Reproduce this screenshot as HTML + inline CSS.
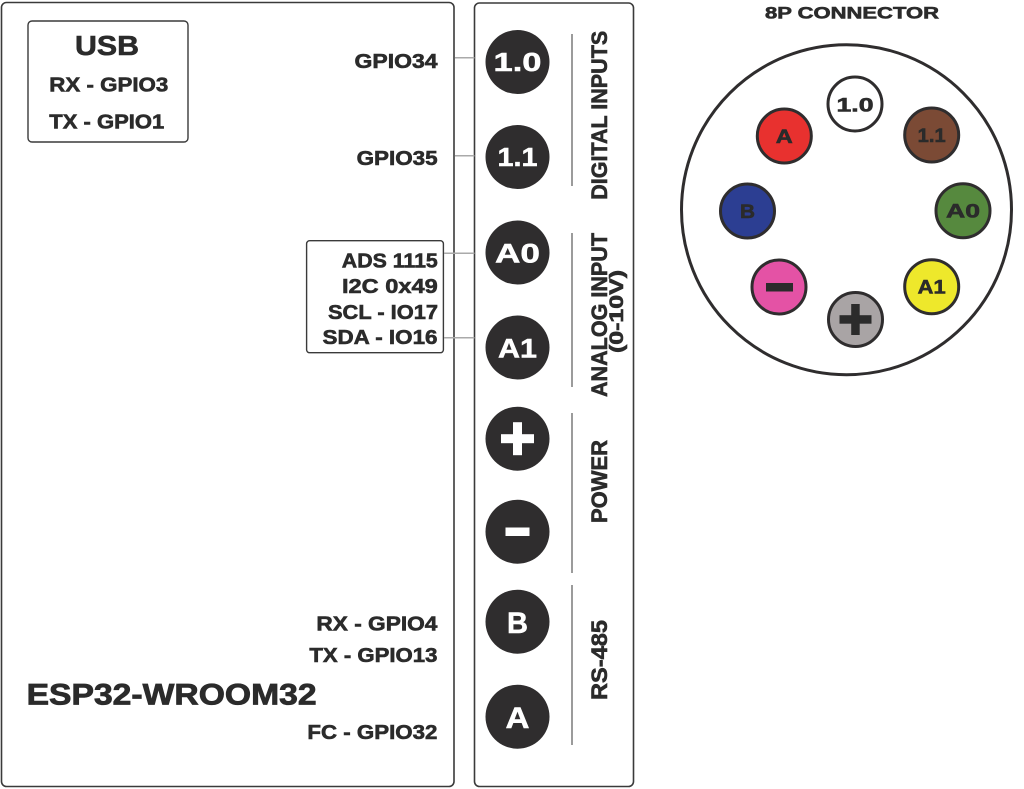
<!DOCTYPE html>
<html>
<head>
<meta charset="utf-8">
<style>
html,body{margin:0;padding:0;background:#fff;width:1024px;height:789px;overflow:hidden;}
svg{display:block;}
text{font-family:"Liberation Sans",Arial,sans-serif;font-weight:bold;fill:#2b2b2b;stroke:#2b2b2b;stroke-width:0.6;}
text.w{fill:#fff;stroke:#fff;stroke-width:0.5;}
</style>
</head>
<body>
<svg width="1024" height="789" viewBox="0 0 1024 789" xmlns="http://www.w3.org/2000/svg">
  <!-- Main ESP32 box -->
  <rect x="1.5" y="2.5" width="452.5" height="784" rx="5" fill="#fff" stroke="#3a3a3a" stroke-width="1.6"/>
  <!-- Right terminal panel -->
  <rect x="474.5" y="3" width="159" height="783.5" rx="5" fill="#fff" stroke="#3a3a3a" stroke-width="1.6"/>

  <!-- USB box -->
  <rect x="28" y="21" width="160" height="121" rx="4" fill="#fff" stroke="#3a3a3a" stroke-width="1.4"/>
  <text x="75" y="55" font-size="28" textLength="64" lengthAdjust="spacingAndGlyphs">USB</text>
  <text x="49.3" y="91.7" font-size="20" textLength="119" lengthAdjust="spacingAndGlyphs">RX - GPIO3</text>
  <text x="49.3" y="128.3" font-size="20" textLength="115" lengthAdjust="spacingAndGlyphs">TX - GPIO1</text>

  <!-- GPIO labels -->
  <text x="354.5" y="68" font-size="20" textLength="83" lengthAdjust="spacingAndGlyphs">GPIO34</text>
  <text x="356.6" y="165" font-size="20" textLength="81" lengthAdjust="spacingAndGlyphs">GPIO35</text>

  <!-- ADS box -->
  <rect x="306.6" y="240.7" width="136.8" height="112" rx="3" fill="#fff" stroke="#3a3a3a" stroke-width="1.4"/>
  <text x="341.8" y="267.7" font-size="20.5" textLength="96" lengthAdjust="spacingAndGlyphs">ADS 1115</text>
  <text x="342" y="293" font-size="20.5" textLength="95.7" lengthAdjust="spacingAndGlyphs">I2C 0x49</text>
  <text x="328" y="319" font-size="20.5" textLength="110" lengthAdjust="spacingAndGlyphs">SCL - IO17</text>
  <text x="322.5" y="344" font-size="20.5" textLength="115" lengthAdjust="spacingAndGlyphs">SDA - IO16</text>

  <!-- RS485 labels & module name -->
  <text x="316.4" y="630.7" font-size="20" textLength="121" lengthAdjust="spacingAndGlyphs">RX - GPIO4</text>
  <text x="309.4" y="662" font-size="20" textLength="128" lengthAdjust="spacingAndGlyphs">TX - GPIO13</text>
  <text x="26.6" y="704.3" font-size="30" textLength="290" lengthAdjust="spacingAndGlyphs" style="stroke-width:0.8">ESP32-WROOM32</text>
  <text x="307.4" y="739" font-size="20" textLength="130" lengthAdjust="spacingAndGlyphs">FC - GPIO32</text>

  <!-- connector lines -->
  <g stroke="#aaaaaa" stroke-width="1.5">
    <line x1="455" y1="57.7" x2="474.5" y2="57.7"/>
    <line x1="455" y1="155.7" x2="474.5" y2="155.7"/>
    <line x1="444" y1="253.3" x2="474.5" y2="253.3"/>
    <line x1="444" y1="337.7" x2="474.5" y2="337.7"/>
  </g>

  <!-- terminal circles -->
  <g fill="#2f2d2e">
    <circle cx="517.5" cy="62" r="32"/>
    <circle cx="517.5" cy="157" r="32"/>
    <circle cx="517.5" cy="252.5" r="32"/>
    <circle cx="517.5" cy="347.5" r="32"/>
    <circle cx="517.5" cy="438.7" r="32"/>
    <circle cx="517.5" cy="531.7" r="32"/>
    <circle cx="517.5" cy="621.7" r="32"/>
    <circle cx="517.5" cy="716.7" r="32"/>
  </g>
  <text class="w" x="517.5" y="71" font-size="26" text-anchor="middle" textLength="48" lengthAdjust="spacingAndGlyphs">1.0</text>
  <text class="w" x="517.5" y="166" font-size="26" text-anchor="middle" textLength="40" lengthAdjust="spacingAndGlyphs">1.1</text>
  <text class="w" x="517.5" y="262.5" font-size="27" text-anchor="middle" textLength="45" lengthAdjust="spacingAndGlyphs">A0</text>
  <text class="w" x="517.5" y="357.5" font-size="27" text-anchor="middle" textLength="39" lengthAdjust="spacingAndGlyphs">A1</text>
  <rect x="501" y="434.2" width="33" height="9" fill="#fff"/>
  <rect x="513" y="422.2" width="9" height="33" fill="#fff"/>
  <rect x="505.5" y="527.5" width="24" height="8.5" fill="#fff"/>
  <text class="w" x="517.5" y="633" font-size="30" text-anchor="middle" textLength="21" lengthAdjust="spacingAndGlyphs">B</text>
  <text class="w" x="517.5" y="728" font-size="30" text-anchor="middle" textLength="24" lengthAdjust="spacingAndGlyphs">A</text>

  <!-- separator lines -->
  <g stroke="#7a7a7a" stroke-width="1.5">
    <line x1="572" y1="34" x2="572" y2="186"/>
    <line x1="572" y1="233" x2="572" y2="387"/>
    <line x1="572" y1="413" x2="572" y2="573"/>
    <line x1="572" y1="585" x2="572" y2="745"/>
  </g>

  <!-- vertical labels -->
  <text transform="translate(607,115.3) rotate(-90)" font-size="22" text-anchor="middle" textLength="169" lengthAdjust="spacingAndGlyphs">DIGITAL INPUTS</text>
  <text transform="translate(607,315) rotate(-90)" font-size="22" text-anchor="middle" textLength="164" lengthAdjust="spacingAndGlyphs">ANALOG INPUT</text>
  <text transform="translate(623,311.5) rotate(-90)" font-size="19" text-anchor="middle" textLength="83" lengthAdjust="spacingAndGlyphs">(0-10V)</text>
  <text transform="translate(607,481.5) rotate(-90)" font-size="22" text-anchor="middle" textLength="83" lengthAdjust="spacingAndGlyphs">POWER</text>
  <text transform="translate(607,660) rotate(-90)" font-size="22" text-anchor="middle" textLength="80" lengthAdjust="spacingAndGlyphs">RS-485</text>

  <!-- 8P connector -->
  <text x="765" y="18.3" font-size="16.5" textLength="174" lengthAdjust="spacingAndGlyphs">8P CONNECTOR</text>
  <circle cx="846.5" cy="209.7" r="165" fill="#fff" stroke="#2f2d2e" stroke-width="3"/>
  <g stroke="#2f2d2e" stroke-width="3">
    <circle cx="855" cy="104" r="27" fill="#ffffff"/>
    <circle cx="784.3" cy="136" r="27" fill="#e8312f"/>
    <circle cx="931.7" cy="135" r="27" fill="#7b4a35"/>
    <circle cx="747.5" cy="211" r="27" fill="#2c3e92"/>
    <circle cx="963" cy="210.7" r="27" fill="#56893e"/>
    <circle cx="779" cy="287" r="27" fill="#e452a5"/>
    <circle cx="931.7" cy="286.7" r="27" fill="#eee82b"/>
    <circle cx="855.5" cy="319.5" r="27" fill="#a9a4a5"/>
  </g>
  <text x="855" y="111.5" font-size="19" text-anchor="middle" textLength="37" lengthAdjust="spacingAndGlyphs">1.0</text>
  <text x="784.3" y="143" font-size="19" text-anchor="middle" textLength="17" lengthAdjust="spacingAndGlyphs">A</text>
  <text x="931.7" y="142" font-size="19" text-anchor="middle" textLength="28" lengthAdjust="spacingAndGlyphs">1.1</text>
  <text x="747.5" y="218" font-size="19" text-anchor="middle" textLength="15" lengthAdjust="spacingAndGlyphs">B</text>
  <text x="963" y="217.7" font-size="19" text-anchor="middle" textLength="34" lengthAdjust="spacingAndGlyphs">A0</text>
  <text x="931.7" y="293.7" font-size="19" text-anchor="middle" textLength="28" lengthAdjust="spacingAndGlyphs">A1</text>
  <rect x="766" y="283" width="27" height="8.5" fill="#2b2b2b"/>
  <rect x="839.5" y="315.2" width="32" height="8.5" fill="#2b2b2b"/>
  <rect x="851.2" y="304" width="8.5" height="31" fill="#2b2b2b"/>
</svg>
</body>
</html>
